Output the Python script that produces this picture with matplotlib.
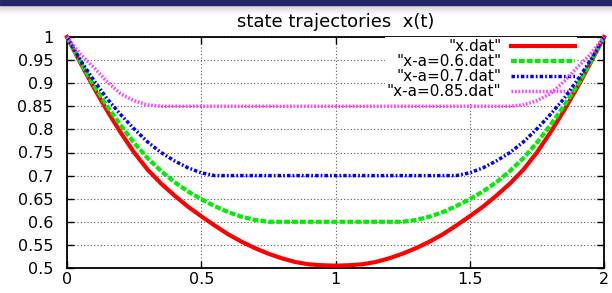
import matplotlib
matplotlib.use("Agg")
import matplotlib.pyplot as plt
import numpy as np

# state trajectories
t_x = [0, 0.05, 0.1, 0.15, 0.2, 0.25, 0.3, 0.35, 0.4, 0.45, 0.5, 0.55, 0.6, 0.65, 0.7, 0.75,
       0.8, 0.85, 0.9, 0.95, 1.0, 1.05, 1.1, 1.15, 1.2, 1.25, 1.3, 1.35, 1.4, 1.45, 1.5,
       1.55, 1.6, 1.65, 1.7, 1.75, 1.8, 1.85, 1.9, 1.95, 2.0]
x_free = [1.0, 0.944, 0.890, 0.840, 0.793, 0.750, 0.713, 0.683, 0.657, 0.633, 0.612, 0.592,
          0.573, 0.557, 0.543, 0.531, 0.521, 0.513, 0.508, 0.506, 0.505, 0.506, 0.508, 0.513,
          0.521, 0.531, 0.543, 0.557, 0.573, 0.592, 0.612, 0.633, 0.657, 0.683, 0.713, 0.750,
          0.793, 0.840, 0.890, 0.944, 1.0]

t_06 = [0, 0.05, 0.1, 0.15, 0.2, 0.25, 0.3, 0.35, 0.4, 0.45, 0.5, 0.55, 0.6, 0.65, 0.7, 0.75,
        1.25, 1.3, 1.35, 1.4, 1.45, 1.5, 1.55, 1.6, 1.65, 1.7, 1.75, 1.8, 1.85, 1.9, 1.95, 2.0]
x_06 = [1.0, 0.946, 0.895, 0.850, 0.809, 0.771, 0.738, 0.710, 0.686, 0.666, 0.649, 0.634,
        0.621, 0.611, 0.604, 0.600, 0.600, 0.604, 0.611, 0.621, 0.634, 0.649, 0.666, 0.686,
        0.710, 0.738, 0.771, 0.809, 0.850, 0.895, 0.946, 1.0]

t_07 = [0, 0.05, 0.1, 0.15, 0.2, 0.25, 0.3, 0.35, 0.4, 0.45, 0.5, 0.55,
        1.45, 1.5, 1.55, 1.6, 1.65, 1.7, 1.75, 1.8, 1.85, 1.9, 1.95, 2.0]
x_07 = [1.0, 0.950, 0.906, 0.866, 0.832, 0.801, 0.773, 0.750, 0.732, 0.717, 0.706, 0.700,
        0.700, 0.706, 0.717, 0.732, 0.750, 0.773, 0.801, 0.832, 0.866, 0.906, 0.950, 1.0]

t_085 = [0, 0.05, 0.1, 0.15, 0.2, 0.25, 0.3, 0.35,
         1.65, 1.7, 1.75, 1.8, 1.85, 1.9, 1.95, 2.0]
x_085 = [1.0, 0.963, 0.934, 0.903, 0.877, 0.862, 0.853, 0.850,
         0.850, 0.853, 0.862, 0.877, 0.903, 0.934, 0.963, 1.0]

labels = ['"x.dat"', '"x-a=0.6.dat"', '"x-a=0.7.dat"', '"x-a=0.85.dat"']
xticks = [0, 0.5, 1, 1.5, 2]
xticklabels = ["0", "0.5", "1", "1.5", "2"]
yticks = [0.5, 0.55, 0.6, 0.65, 0.7, 0.75, 0.8, 0.85, 0.9, 0.95, 1.0]
yticklabels = ["0.5", "0.55", "0.6", "0.65", "0.7", "0.75", "0.8", "0.85", "0.9", "0.95", "1"]

fig = plt.figure(figsize=(6.12, 2.93), dpi=100)

# slide header strip: navy bar plus soft shadow
hdr = fig.add_axes([0, 1 - 15 / 293, 1, 15 / 293])
hdr.axis("off")
grad = np.linspace(0.72, 1.0, 50).reshape(-1, 1)
hdr.imshow(grad, cmap="gray", vmin=0, vmax=1, aspect="auto", extent=[0, 1, 0, 1])
hdr.axhspan(1 - 5 / 15, 1, color="#25256a")
hdr.set_xlim(0, 1)
hdr.set_ylim(0, 1)

ax = fig.add_axes([67 / 612, 1 - 268 / 293, 537 / 612, 231 / 293])
ax.set_axisbelow(True)

ax.plot(t_x, x_free, color="#ff0000", lw=3, label=labels[0], zorder=3, clip_on=False)
ax.plot(t_06, x_06, color="#00ee00", lw=3, ls=(0, (1.4, 0.5)), label=labels[1], zorder=3, clip_on=False)
ax.plot(t_07, x_07, color="#0000ff", lw=2.5, ls=(0, (1.0, 0.6, 0.5, 0.6)), label=labels[2], zorder=3, clip_on=False)
ax.plot(t_085, x_085, color="#ff44ff", lw=2.5, ls=(0, (0.5, 0.5)), label=labels[3], zorder=3, clip_on=False)

ax.set_xlim(0, 2)
ax.set_ylim(0.5, 1)
ax.set_xticks(xticks)
ax.set_xticklabels(xticklabels)
ax.set_yticks(yticks)
ax.set_yticklabels(yticklabels)
ax.tick_params(direction="in", length=5, width=1, top=True, right=True, labelsize=11.5)
ax.tick_params(axis="y", pad=10)
ax.tick_params(axis="x", pad=3)
ax.grid(True, color="0.35", ls=(0, (1, 2)), lw=0.8)
for s in ax.spines.values():
    s.set_linewidth(1.3)

ax.set_title("state trajectories  x(t)", fontsize=13, pad=7)

leg = ax.legend(loc="upper right", bbox_to_anchor=(0.95, 1.0), markerfirst=False,
                fontsize=11, frameon=True, facecolor="white", edgecolor="none",
                framealpha=1, fancybox=False, borderpad=0.15, borderaxespad=0,
                handlelength=4.2, handletextpad=0.6, labelspacing=0.0)
leg.set_zorder(2.5)
leg._legend_handle_box.get_children()[0].align = "right"

fig.savefig("out.png", dpi=100)
